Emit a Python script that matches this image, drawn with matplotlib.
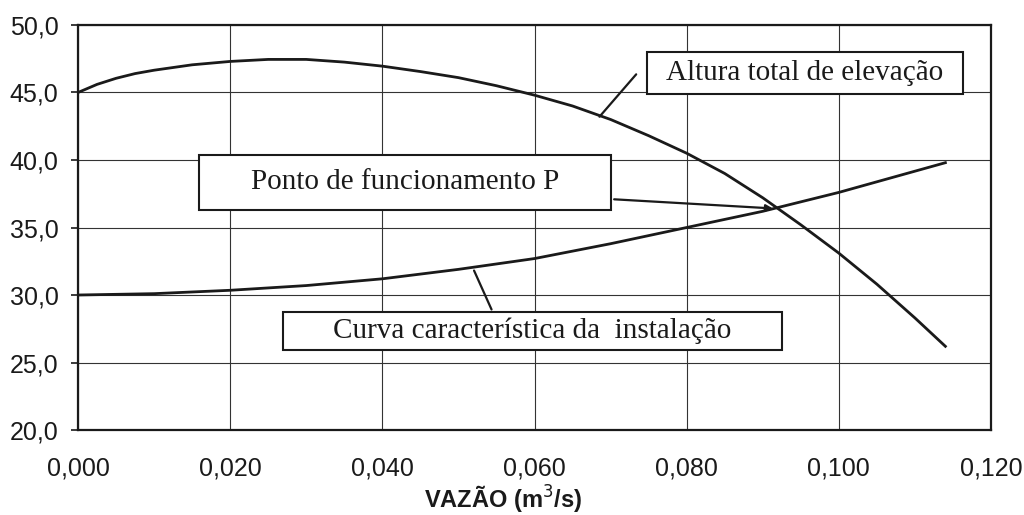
import numpy as np
import matplotlib
matplotlib.use('Agg')
import matplotlib.pyplot as plt
from matplotlib.patches import Rectangle
from matplotlib.ticker import FuncFormatter

# Vazão (m3/s) e altura (m)
q_bomba = [0.000, 0.0025, 0.005, 0.0075, 0.010, 0.015, 0.020, 0.025, 0.030, 0.035,
           0.040, 0.045, 0.050, 0.055, 0.060, 0.065, 0.070, 0.075, 0.080, 0.085,
           0.090, 0.095, 0.100, 0.105, 0.110, 0.114]
h_bomba = [45.0, 45.6, 46.05, 46.4, 46.65, 47.05, 47.3, 47.45, 47.45, 47.25,
           46.95, 46.55, 46.1, 45.5, 44.8, 44.0, 43.0, 41.8, 40.5, 39.0,
           37.2, 35.2, 33.1, 30.8, 28.3, 26.2]

q_inst = [0.000, 0.010, 0.020, 0.030, 0.040, 0.050, 0.060, 0.070, 0.080, 0.090,
          0.100, 0.107, 0.114]
h_inst = [30.0, 30.1, 30.35, 30.7, 31.2, 31.9, 32.7, 33.8, 35.0, 36.2,
          37.6, 38.7, 39.8]

# ponto de funcionamento P
q_p, h_p = 0.0917, 36.4

x_ticks = [0.000, 0.020, 0.040, 0.060, 0.080, 0.100, 0.120]
y_ticks = [20.0, 25.0, 30.0, 35.0, 40.0, 45.0, 50.0]

fig = plt.figure(figsize=(10.24, 5.15), dpi=100)
ax = fig.add_axes([0.0762, 0.165, 0.8916, 0.7865])

ax.plot(q_bomba, h_bomba, color='#1a1a1a', lw=2.0, zorder=3)
ax.plot(q_inst, h_inst, color='#1a1a1a', lw=2.0, zorder=3)

ax.set_xlim(x_ticks[0], x_ticks[-1])
ax.set_ylim(y_ticks[0], y_ticks[-1])
ax.set_xticks(x_ticks)
ax.set_yticks(y_ticks)
ax.xaxis.set_major_formatter(FuncFormatter(lambda v, p: f'{v:.3f}'.replace('.', ',')))
ax.yaxis.set_major_formatter(FuncFormatter(lambda v, p: f'{v:.1f}'.replace('.', ',')))
ax.grid(True, color='#333333', lw=0.8, zorder=1)
ax.tick_params(axis='y', length=5, width=1.2, pad=9, labelsize=18, colors='#1a1a1a')
ax.tick_params(axis='x', length=0, pad=19, labelsize=18, colors='#1a1a1a')
for lab in ax.get_xticklabels() + ax.get_yticklabels():
    lab.set_fontfamily('Liberation Sans')
for s in ax.spines.values():
    s.set_linewidth(1.6)
    s.set_color('#1a1a1a')

fig.text(0.491, 0.03, 'VAZÃO (m$^3$/s)', ha='center', va='center',
         fontsize=17, fontweight='bold', family='Liberation Sans', color='#1a1a1a')


def caixa(x0, x1, y0, y1, texto):
    ax.add_patch(Rectangle((x0, y0), x1 - x0, y1 - y0, facecolor='white',
                           edgecolor='#1a1a1a', lw=1.5, zorder=4))
    ax.text((x0 + x1) / 2, (y0 + y1) / 2, texto, ha='center', va='center',
            fontsize=21, family='Liberation Serif', color='#1a1a1a', zorder=5)


caixa(0.0748, 0.1163, 44.9, 48.0, 'Altura total de elevação')
caixa(0.0159, 0.0701, 36.3, 40.37, 'Ponto de funcionamento P')
caixa(0.0269, 0.0925, 25.93, 28.74, 'Curva característica da  instalação')

# linhas de chamada
ax.annotate('', xy=(0.0683, 43.05), xytext=(0.0736, 46.5),
            arrowprops=dict(arrowstyle='-', color='#1a1a1a', lw=1.6), zorder=5)
ax.annotate('', xy=(q_p, h_p), xytext=(0.0701, 37.1),
            arrowprops=dict(arrowstyle='-|>', color='#1a1a1a', lw=1.6,
                            mutation_scale=10), zorder=5)
ax.annotate('', xy=(0.0519, 32.0), xytext=(0.0545, 28.74),
            arrowprops=dict(arrowstyle='-', color='#1a1a1a', lw=1.6), zorder=5)

fig.savefig('out.png', dpi=100)
